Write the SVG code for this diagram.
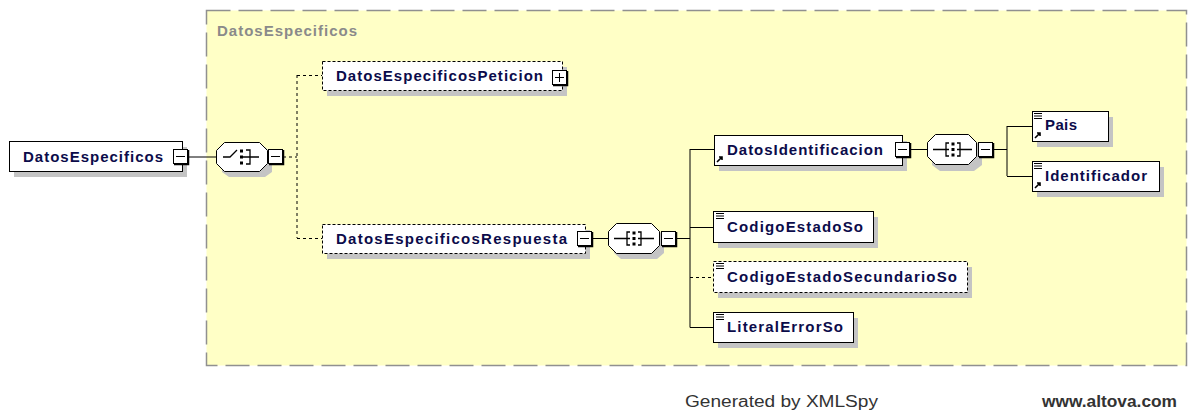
<svg xmlns="http://www.w3.org/2000/svg" width="1202" height="413" viewBox="0 0 1202 413">
<defs>
<style>
.lbl{font-family:"Liberation Sans",Arial,sans-serif;font-weight:bold;font-size:15px;fill:#0b0b4a}
.box{fill:#fff;stroke:#000;stroke-width:1}
.dbox{fill:#fff;stroke:#000;stroke-width:1;stroke-dasharray:3,2}
.shd{fill:#c4c4c4}
.ln{stroke:#000;stroke-width:1;fill:none}
.dln{stroke:#000;stroke-width:1;fill:none;stroke-dasharray:3,3}
.oct{fill:#fff;stroke:#000;stroke-width:1}
.ic{stroke:#000;stroke-width:1.3;fill:none}
.foot{font-family:"Liberation Sans",Arial,sans-serif;font-size:16px;fill:#333}
</style>
<g id="minus">
<rect x="0.5" y="0.5" width="14" height="14" fill="#fff" stroke="#000"/>
<path d="M1 15.5H15.5V1" stroke="#000" stroke-width="1.5" fill="none"/>
<path d="M3 7.5H12" stroke="#000"/>
</g>
<g id="plus">
<rect x="0.5" y="0.5" width="14" height="14" fill="#fff" stroke="#000"/>
<path d="M1 15.5H15.5V1" stroke="#000" stroke-width="1.5" fill="none"/>
<path d="M3 7.5H12M7.5 3V12" stroke="#000"/>
</g>
<g id="simple">
<path d="M0 0.5H8M0 3H8M0 5.5H8" stroke="#000" stroke-width="1"/>
</g>
<g id="ref">
<path d="M1 7L6 2M3 2H6V5" stroke="#000" stroke-width="1.6" fill="none"/>
</g>
</defs>
<rect width="1202" height="413" fill="#fff"/>

<g id="container">
<rect x="206.5" y="10.5" width="980" height="355" fill="#ffffc6" stroke="#909090" stroke-width="1.5" stroke-dasharray="24,8"/>
<text x="217" y="36" font-family="Liberation Sans,Arial,sans-serif" font-weight="bold" font-size="15" fill="#8a8a8a" textLength="140" lengthAdjust="spacing">DatosEspecificos</text>
</g>

<g id="connectors">
<path class="ln" d="M188 157H216"/>
<path class="dln" d="M283 157H297M297 75V238M297 75.5H322M297 238.5H322"/>
<path class="ln" d="M593 238.5H608"/>
<path class="ln" d="M676 238.5H690M690 149V327.5M690 149.5H714M690 227.5H713M690 327.5H713"/>
<path class="dln" d="M690 277.5H713"/>
<path class="ln" d="M910 149.5H927"/>
<path class="ln" d="M993 149.5H1007M1007 126V176M1007 126.5H1032M1007 176.5H1032"/>
</g>

<g id="node-root">
<rect class="shd" x="14" y="147" width="173" height="30"/>
<rect class="box" x="9.5" y="141.5" width="173" height="30"/>
<text class="lbl" x="23" y="162" textLength="140" lengthAdjust="spacing">DatosEspecificos</text>
<use href="#minus" x="173" y="149"/>
</g>

<g id="node-choice">
<path class="shd" d="M229 147H265L272 154V172L265 177H229L222 172V154Z"/>
<path class="oct" d="M224.5 142.5H259.5L267.5 150.5V163.5L259.5 171.5H224.5L216.5 163.5V150.5Z"/>
<path class="ic" d="M223 157H230L237 150M246 150H250V164H246M250 157H259M242 157H250"/>
<rect x="240" y="149.5" width="3" height="3" fill="#000"/>
<rect x="240" y="155.5" width="3" height="3" fill="#000"/>
<rect x="240" y="161.5" width="3" height="3" fill="#000"/>
<use href="#minus" x="268" y="149"/>
</g>

<g id="node-peticion">
<rect class="shd" x="327" y="67" width="240" height="29"/>
<rect class="dbox" x="322.5" y="61.5" width="240" height="29"/>
<text class="lbl" x="336" y="81" textLength="207" lengthAdjust="spacing">DatosEspecificosPeticion</text>
<use href="#plus" x="552" y="70"/>
</g>

<g id="node-respuesta">
<rect class="shd" x="327" y="230" width="263" height="29"/>
<rect class="dbox" x="322.5" y="224.5" width="263" height="29"/>
<text class="lbl" x="336" y="244" textLength="231" lengthAdjust="spacing">DatosEspecificosRespuesta</text>
<use href="#minus" x="577" y="231"/>
</g>

<g id="node-seq1">
<path class="shd" d="M621 229H657L664 236V253L657 259H621L614 253V236Z"/>
<path class="oct" d="M616.5 223.5H651.5L659.5 231.5V245.5L651.5 253.5H616.5L608.5 245.5V231.5Z"/>
<path class="ic" d="M614 238.5H627M630 232H627V245H630M627 238.5H630M638 232H641V245H638M638 238.5H641M641 238.5H654"/>
<rect x="632.5" y="231.5" width="3" height="3" fill="#000"/>
<rect x="632.5" y="237" width="3" height="3" fill="#000"/>
<rect x="632.5" y="242.5" width="3" height="3" fill="#000"/>
<use href="#minus" x="661" y="231"/>
</g>

<g id="node-datosidentificacion">
<rect class="shd" x="719" y="141" width="188" height="30"/>
<rect class="box" x="714.5" y="135.5" width="188" height="30"/>
<text class="lbl" x="727" y="155" textLength="156" lengthAdjust="spacing">DatosIdentificacion</text>
<use href="#ref" x="716" y="155"/>
<use href="#minus" x="895" y="142"/>
</g>

<g id="node-seq2">
<path class="shd" d="M940 140H974L982 147V165L974 171H940L932 165V147Z"/>
<path class="oct" d="M935.5 134.5H968.5L976.5 142.5V156.5L968.5 164.5H935.5L927.5 156.5V142.5Z"/>
<path class="ic" d="M933 149.5H946M949 143H946V156H949M946 149.5H949M957 143H960V156H957M957 149.5H960M960 149.5H972"/>
<rect x="951.5" y="142.5" width="3" height="3" fill="#000"/>
<rect x="951.5" y="148" width="3" height="3" fill="#000"/>
<rect x="951.5" y="153.5" width="3" height="3" fill="#000"/>
<use href="#minus" x="978" y="142"/>
</g>

<g id="node-pais">
<rect class="shd" x="1037" y="117" width="76" height="30"/>
<rect class="box" x="1032.5" y="111.5" width="76" height="30"/>
<use href="#simple" x="1034" y="113"/>
<use href="#ref" x="1034" y="131"/>
<text class="lbl" x="1045" y="130" textLength="32" lengthAdjust="spacing">Pais</text>
</g>

<g id="node-identificador">
<rect class="shd" x="1037" y="167" width="127" height="30"/>
<rect class="box" x="1032.5" y="161.5" width="127" height="30"/>
<use href="#simple" x="1034" y="163"/>
<use href="#ref" x="1034" y="181"/>
<text class="lbl" x="1045" y="181" textLength="102" lengthAdjust="spacing">Identificador</text>
</g>

<g id="node-codigoestadoso">
<rect class="shd" x="718" y="217" width="160" height="31"/>
<rect class="box" x="713.5" y="211.5" width="160" height="31"/>
<use href="#simple" x="716" y="213"/>
<text class="lbl" x="727" y="232" textLength="136" lengthAdjust="spacing">CodigoEstadoSo</text>
</g>

<g id="node-codigoestadosecundarioso">
<rect class="shd" x="718" y="267" width="254" height="31"/>
<rect class="dbox" x="713.5" y="261.5" width="254" height="31"/>
<use href="#simple" x="716" y="263"/>
<text class="lbl" x="727" y="282" textLength="230" lengthAdjust="spacing">CodigoEstadoSecundarioSo</text>
</g>

<g id="node-literalerrorso">
<rect class="shd" x="718" y="318" width="140" height="30"/>
<rect class="box" x="713.5" y="312.5" width="140" height="30"/>
<use href="#simple" x="716" y="314"/>
<text class="lbl" x="727" y="332" textLength="116" lengthAdjust="spacing">LiteralErrorSo</text>
</g>

<g id="footer">
<text class="foot" x="685" y="407" textLength="193" lengthAdjust="spacingAndGlyphs">Generated by XMLSpy</text>
<text class="foot" x="1042" y="407" font-weight="bold" textLength="135" lengthAdjust="spacingAndGlyphs">www.altova.com</text>
</g>
</svg>
